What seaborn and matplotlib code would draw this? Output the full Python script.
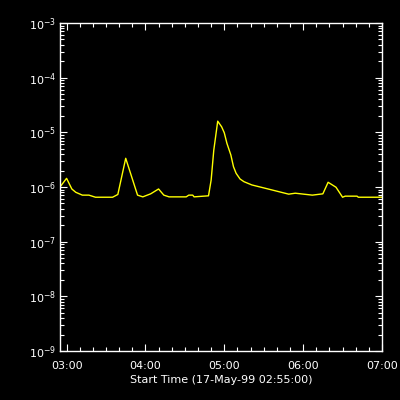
import matplotlib
matplotlib.use("Agg")
import matplotlib.pyplot as plt
import matplotlib.dates as mdates
from matplotlib.ticker import FixedLocator, NullFormatter
import pandas as pd
import seaborn as sns

# GOES-style flux readings, 17-May-99
times = ["02:55", "03:00", "03:04", "03:07", "03:12", "03:17", "03:22", "03:35",
         "03:39", "03:45", "03:54", "03:58", "04:04", "04:10", "04:14", "04:18",
         "04:31", "04:33", "04:36", "04:37", "04:48", "04:50", "04:52", "04:55",
         "04:58", "05:00", "05:02", "05:05", "05:07", "05:09", "05:12", "05:15",
         "05:21", "05:31", "05:39", "05:49", "05:54", "06:07", "06:15", "06:19",
         "06:25", "06:30", "06:32", "06:41", "06:42", "07:00"]
flux = [1.0e-6, 1.44e-6, 0.92e-6, 0.80e-6, 0.71e-6, 0.71e-6, 0.65e-6, 0.65e-6,
        0.73e-6, 3.35e-6, 0.71e-6, 0.66e-6, 0.75e-6, 0.92e-6, 0.71e-6, 0.66e-6,
        0.66e-6, 0.71e-6, 0.71e-6, 0.66e-6, 0.69e-6, 1.34e-6, 4.7e-6, 1.6e-5,
        1.26e-5, 0.98e-5, 6.3e-6, 3.85e-6, 2.35e-6, 1.78e-6, 1.40e-6, 1.25e-6,
        1.09e-6, 0.95e-6, 0.85e-6, 0.74e-6, 0.77e-6, 0.71e-6, 0.75e-6, 1.22e-6,
        0.99e-6, 0.65e-6, 0.68e-6, 0.68e-6, 0.65e-6, 0.65e-6]

decades = [1e-9, 1e-8, 1e-7, 1e-6, 1e-5, 1e-4, 1e-3]

df = pd.DataFrame({
    "time": pd.to_datetime(["1999-05-17 " + t for t in times]),
    "flux": flux,
})

sns.set_theme(style="ticks")
plt.rcParams["font.family"] = ["DejaVu Sans"]

fig = plt.figure(figsize=(4, 4), dpi=100, facecolor="black")
ax = fig.add_axes([0.15, 0.1225, 0.805, 0.82])
ax.set_facecolor("black")

sns.lineplot(data=df, x="time", y="flux", color="yellow", linewidth=1.0, ax=ax)

ax.set_yscale("log")
ax.set_ylim(decades[0], decades[-1])
ax.set_xlim(pd.Timestamp("1999-05-17 02:55"), pd.Timestamp("1999-05-17 07:00"))
ax.yaxis.set_major_locator(FixedLocator(decades))
ax.yaxis.set_minor_locator(FixedLocator([d * m for d in decades[:-1] for m in range(2, 10)]))
ax.yaxis.set_minor_formatter(NullFormatter())

ax.xaxis.set_major_locator(mdates.HourLocator())
ax.xaxis.set_minor_locator(mdates.MinuteLocator(byminute=range(0, 60, 10)))
ax.xaxis.set_major_formatter(mdates.DateFormatter("%H:%M"))

for s in ax.spines.values():
    s.set_color("white")
    s.set_linewidth(1.0)
ax.tick_params(which="both", direction="in", colors="white", top=True, right=True,
               width=0.8, labelsize=8)
ax.tick_params(which="major", length=5)
ax.tick_params(which="minor", length=2.8)
ax.tick_params(axis="x", which="major", pad=7)
ax.tick_params(axis="y", which="major", pad=3)

ax.set_xlabel("Start Time (17-May-99 02:55:00)", color="white", fontsize=8, labelpad=3)
ax.set_ylabel("")
ax.yaxis.label.set_visible(False)

fig.savefig("out.png", dpi=100, facecolor="black")
